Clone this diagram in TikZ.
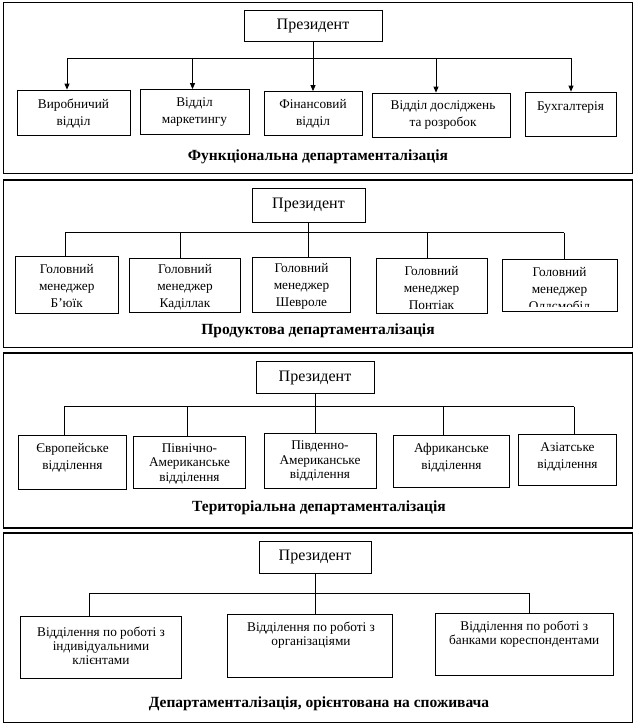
\documentclass[tikz,border=0pt]{standalone}
\usepackage{fontspec}
\setmainfont{Liberation Serif}
\usetikzlibrary{arrows.meta}
\begin{document}
\begin{tikzpicture}[x=1pt,y=-1pt,
  frame/.style={draw, line width=1.1pt},
  box/.style={draw, line width=0.8pt, inner sep=0pt},
  pres/.style={draw, line width=0.8pt, inner sep=0pt, font=\fontsize{16}{19}\selectfont},
  txt/.style={inner sep=0pt, align=center, font=\fontsize{13.3}{17}\selectfont},
  txtc/.style={inner sep=0pt, align=center, font=\fontsize{13.3}{14.5}\selectfont},
  txtd/.style={inner sep=0pt, align=center, font=\fontsize{13.3}{14.2}\selectfont},
  ttl/.style={inner sep=0pt, font=\fontsize{15.5}{18}\selectfont\bfseries},
  conn/.style={line width=0.8pt},
  arr/.style={line width=0.8pt, -{Triangle[length=6pt,width=5pt]}}
]
\useasboundingbox (0,0) rectangle (636,726);

% ---------------- Panel 1 ----------------
\draw[frame] (3.5,2.5) rectangle (632.5,173.5);
\node[pres, minimum width=138pt, minimum height=31pt] (p1) at (313,25.5) {Президент};
\node[box, minimum width=113pt, minimum height=45pt] (b11) at (73.5,112.5) {};
\node[box, minimum width=109pt, minimum height=45pt] (b12) at (194.5,112) {};
\node[box, minimum width=98pt, minimum height=44pt] (b13) at (313,113.5) {};
\node[box, minimum width=138pt, minimum height=44pt] (b14) at (441,115) {};
\node[box, minimum width=91pt, minimum height=44pt] (b15) at (570.5,114) {};
\node[txt] (t11) at (73.5,113.5) {Виробничий\\відділ};
\node[txt] (t12) at (194.5,112.5) {Відділ\\маркетингу};
\node[txt] (t13) at (313,114) {Фінансовий\\відділ};
\node[txt] (t14) at (443,115) {Відділ досліджень\\та розробок};
\node[txt] (t15) at (570.5,108) {Бухгалтерія};
\node[ttl] (title1) at (318,157) {Функціональна департаменталізація};
\coordinate (h1a) at (67,58);
\coordinate (h1b) at (192.5,58);
\coordinate (h1d) at (436,58);
\coordinate (h1e) at (571,58);
\draw[conn] (h1a) -- (h1e);
\draw[arr] (p1.south) -- (p1.south |- b13.north);
\draw[arr] (h1a) -- (h1a |- b11.north);
\draw[arr] (h1b) -- (h1b |- b12.north);
\draw[arr] (h1d) -- (h1d |- b14.north);
\draw[arr] (h1e) -- (h1e |- b15.north);

% ---------------- Panel 2 ----------------
\draw[frame] (3.5,180) rectangle (632.5,347.5);
\node[pres, minimum width=113pt, minimum height=34pt] (p2) at (308.5,205) {Президент};
\node[box, minimum width=102.5pt, minimum height=57pt] (b21) at (66.75,284.5) {};
\node[box, minimum width=111pt, minimum height=54pt] (b22) at (185,285) {};
\node[box, minimum width=98pt, minimum height=55pt] (b23) at (301.5,284.5) {};
\node[box, minimum width=111pt, minimum height=54.5pt] (b24) at (431.5,285.75) {};
\node[box, minimum width=115pt, minimum height=52pt] (b25) at (559.5,285.5) {};
\node[txt] (t21) at (66.75,286.3) {Головний\\менеджер\\Б’юїк};
\node[txt] (t22) at (185,287.7) {Головний\\менеджер\\Каділлак};
\node[txt] (t23) at (301.5,286.5) {Головний\\менеджер\\Шевроле};
\node[txt] (t24) at (431.5,288.5) {Головний\\менеджер\\Понтіак};
\begin{scope}
  \clip (502,259.5) rectangle (617,306.5);
  \node[txt] (t25) at (559.5,290) {Головний\\менеджер\\Олдсмобіл};
\end{scope}
\node[ttl] (title2) at (318,331) {Продуктова департаменталізація};
\coordinate (h2a) at (65,232.5);
\coordinate (h2b) at (180.5,232.5);
\coordinate (h2d) at (427,232.5);
\coordinate (h2e) at (564,232.5);
\draw[conn] (h2a) -- (h2e);
\draw[conn] (p2.south) -- (p2.south |- b23.north);
\draw[conn] (h2a) -- (h2a |- b21.north);
\draw[conn] (h2b) -- (h2b |- b22.north);
\draw[conn] (h2d) -- (h2d |- b24.north);
\draw[conn] (h2e) -- (h2e |- b25.north);

% ---------------- Panel 3 ----------------
\draw[frame] (3.5,353) rectangle (632.5,528);
\node[pres, minimum width=118pt, minimum height=32pt] (p3) at (315,377.5) {Президент};
\node[box, minimum width=108pt, minimum height=54.5pt] (b31) at (72.5,462.25) {};
\node[box, minimum width=112pt, minimum height=52pt] (b32) at (189.5,462) {};
\node[box, minimum width=112pt, minimum height=54.5pt] (b33) at (320,460.75) {};
\node[box, minimum width=116pt, minimum height=52pt] (b34) at (451.5,461) {};
\node[box, minimum width=98pt, minimum height=51pt] (b35) at (567.5,459.5) {};
\node[txt] (t31) at (72.5,457.7) {Європейське\\відділення};
\node[txtc] (t32) at (189.5,463.5) {Північно-\\Американське\\відділення};
\node[txtc] (t33) at (320,461.3) {Південно-\\Американське\\відділення};
\node[txt] (t34) at (451.5,457.7) {Африканське\\відділення};
\node[txt] (t35) at (567.5,457) {Азіатське\\відділення};
\node[ttl] (title3) at (319,507.3) {Територіальна департаменталізація};
\coordinate (h3a) at (64,406.5);
\coordinate (h3b) at (187,406.5);
\coordinate (h3d) at (443,406.5);
\coordinate (h3e) at (574,406.5);
\draw[conn] (h3a) -- (h3e);
\draw[conn] (p3.south) -- (p3.south |- b33.north);
\draw[conn] (h3a) -- (h3a |- b31.north);
\draw[conn] (h3b) -- (h3b |- b32.north);
\draw[conn] (h3d) -- (h3d |- b34.north);
\draw[conn] (h3e) -- (h3e |- b35.north);

% ---------------- Panel 4 ----------------
\draw[frame] (3.5,533) rectangle (632.5,722.5);
\node[pres, minimum width=112pt, minimum height=31.5pt] (p4) at (315,557.25) {Президент};
\node[box, minimum width=161pt, minimum height=62pt] (b41) at (101,647) {};
\node[box, minimum width=165pt, minimum height=63pt] (b42) at (309.5,645.5) {};
\node[box, minimum width=178.5pt, minimum height=62.7pt] (b43) at (524.25,644.35) {};
\node[txtd] (t41) at (101,645.8) {Відділення по роботі з\\індивідуальними\\клієнтами};
\node[txtd] (t42) at (311,635.2) {Відділення по роботі з\\організаціями};
\node[txtd] (t43) at (524.25,633.8) {Відділення по роботі з\\банками кореспондентами};
\node[ttl] (title4) at (319,704) {Департаменталізація, орієнтована на споживача};
\coordinate (h4a) at (89,593);
\coordinate (h4c) at (529,593);
\draw[conn] (h4a) -- (h4c);
\draw[conn] (p4.south) -- (p4.south |- b42.north);
\draw[conn] (h4a) -- (h4a |- b41.north);
\draw[conn] (h4c) -- (h4c |- b43.north);
\end{tikzpicture}
\end{document}
